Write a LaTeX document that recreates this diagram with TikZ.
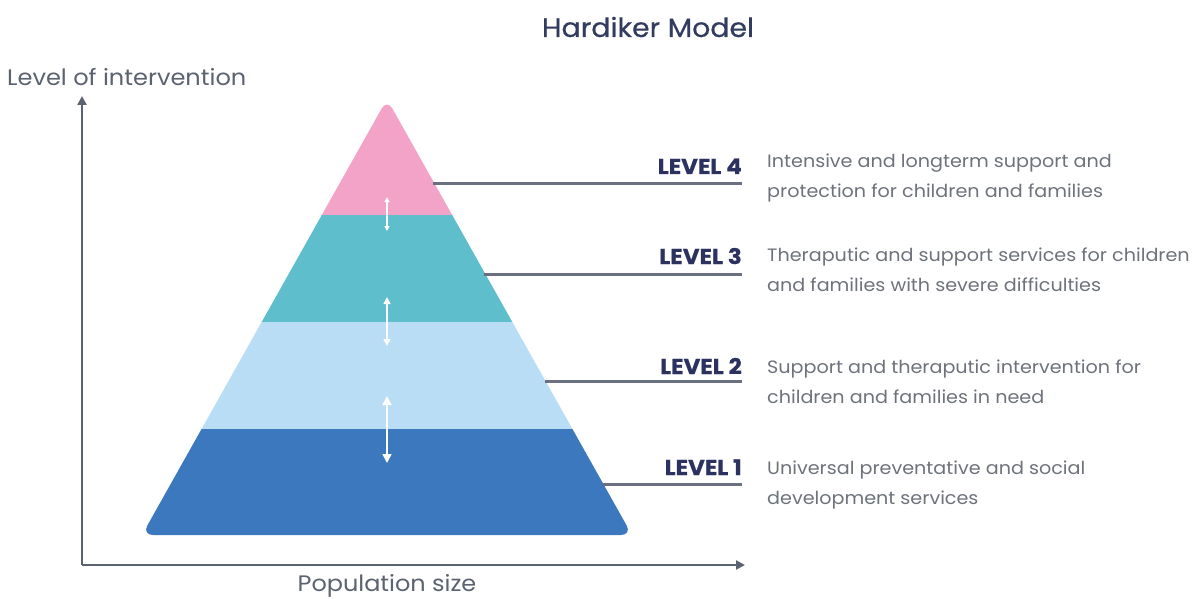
\documentclass[tikz,border=0pt]{standalone}
\usepackage{fontspec}
\setmainfont{Poppins}[FakeStretch=1.07]
\usetikzlibrary{arrows.meta}
\definecolor{navy}{HTML}{2B3260}
\definecolor{titlenavy}{HTML}{323C5E}
\definecolor{axisgray}{HTML}{5C6370}
\definecolor{txtgray}{HTML}{6E737B}
\definecolor{leadgray}{HTML}{6B7080}
\definecolor{lvfour}{HTML}{F4A3C8}
\definecolor{lvthree}{HTML}{5FBECB}
\definecolor{lvtwo}{HTML}{B8DDF5}
\definecolor{lvone}{HTML}{3C78BD}
\tikzset{
  axis/.style={draw=axisgray, line width=2.6pt, -{Triangle[length=9pt,width=9pt]}},
  leader/.style={draw=leadgray, line width=3pt},
  levlabel/.style={anchor=base east, inner sep=0pt, font=\bfseries\fontsize{21.5}{24}\selectfont\addfontfeatures{FakeBold=0.6}, text=navy},
  desc/.style={anchor=west, inner sep=0pt, align=left, font=\fontsize{17.9}{30}\selectfont, text=txtgray},
  updown/.style={draw=white, line width=1.6pt, {Triangle[length=#1,width=#1]}-{Triangle[length=#1,width=#1]}},
}
\begin{document}
\begin{tikzpicture}[x=1pt,y=-1pt]
\useasboundingbox[fill=white] (0,0) rectangle (1194,599);

% title and axis captions
\node[font=\fontsize{26.5}{30}\selectfont\addfontfeatures{FakeBold=0.5}, text=titlenavy] (title) at (648,27) {Hardiker Model};
\node[font=\fontsize{22.5}{26}\selectfont, text=axisgray, anchor=base west, inner sep=0pt] (ylab) at (7,86) {Level of intervention};
\node[font=\fontsize{22.4}{26}\selectfont, text=axisgray, anchor=base, inner sep=0pt] (xlab) at (387,591) {Population size};

% axes
\coordinate (origin) at (82,565);
\coordinate (ytip) at (82,96);
\coordinate (xtip) at (745,565);
\draw[axis] (origin) -- (ytip);
\draw[axis] (origin) -- (xtip);

% pyramid: coloured bands clipped to a rounded triangle
\coordinate (apex) at (387,99);
\coordinate (bl) at (142,535);
\coordinate (br) at (632,535);
\begin{scope}
  \clip[rounded corners=11pt] (bl) -- (apex) -- (br) -- cycle;
  \fill[lvfour]  (100,80)  rectangle (680,215);
  \fill[lvthree] (100,215) rectangle (680,322);
  \fill[lvtwo]   (100,322) rectangle (680,429);
  \fill[lvone]   (100,429) rectangle (680,560);
\end{scope}

% arrows between bands
\coordinate (a1t) at (387,197);
\coordinate (a1b) at (387,231);
\coordinate (a2t) at (387,297);
\coordinate (a2b) at (387,346);
\coordinate (a3t) at (387,396);
\coordinate (a3b) at (387,463);
\draw[updown=5pt] (a1t) -- (a1b);
\draw[updown=7pt] (a2t) -- (a2b);
\draw[updown=9pt] (a3t) -- (a3b);

% level labels
\node[levlabel] (l4) at (742,174) {LEVEL 4};
\node[levlabel] (l3) at (742,264) {LEVEL 3};
\node[levlabel] (l2) at (742,374) {LEVEL 2};
\node[levlabel] (l1) at (742,475) {LEVEL 1};

% leader lines from the pyramid's right edge
\coordinate (e4) at (433,183);
\coordinate (e3) at (484,274);
\coordinate (e2) at (545,381);
\coordinate (e1) at (603,484);
\coordinate (t4) at (742,183);
\coordinate (t3) at (742,274);
\coordinate (t2) at (742,381);
\coordinate (t1) at (742,484);
\draw[leader] (e4) -- (t4);
\draw[leader] (e3) -- (t3);
\draw[leader] (e2) -- (t2);
\draw[leader] (e1) -- (t1);

% descriptions
\node[desc] (d4) at (767,178) {Intensive and longterm support and\\protection for children and families};
\node[desc] (d3) at (767,270) {Theraputic and support services for children\\and families with severe difficulties};
\node[desc] (d2) at (767,382) {Support and theraputic intervention for\\children and families in need};
\node[desc] (d1) at (767,485) {Universal preventative and social\\development services};
\end{tikzpicture}
\end{document}
